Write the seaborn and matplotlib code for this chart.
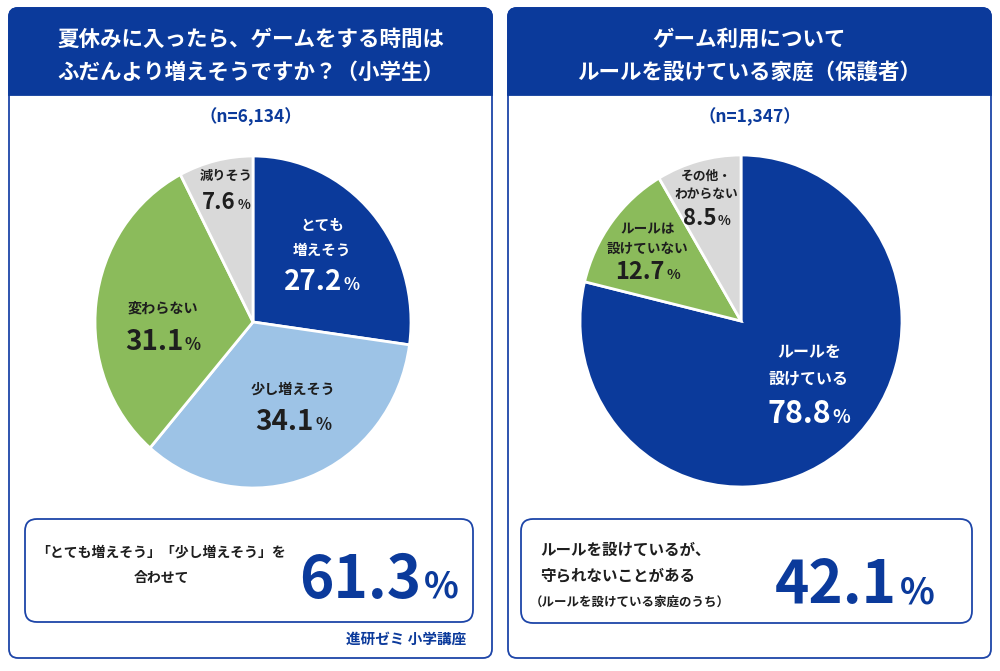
import numpy as np
import seaborn as sns
import matplotlib.pyplot as plt
from matplotlib.patches import FancyBboxPatch, Rectangle

# データ
left_title = "夏休みに入ったら、ゲームをする時間は\nふだんより増えそうですか？（小学生）"
left_n = "（n=6,134）"
left_labels = ["とても\n増えそう", "少し増えそう", "変わらない", "減りそう"]
left_values = [27.2, 34.1, 31.1, 7.6]
left_summary = "61.3"

right_title = "ゲーム利用について\nルールを設けている家庭（保護者）"
right_n = "（n=1,347）"
right_labels = ["ルールを\n設けている", "ルールは\n設けていない", "その他・\nわからない"]
right_values = [78.8, 12.7, 8.5]
right_summary = "42.1"

sns.set_theme(style="white")
plt.rcParams['font.family'] = ['Noto Sans CJK JP', 'DejaVu Sans']

AZUL = "#0b3a9b"
BORDA = "#1d45a8"
TEXTO = "#1e1e1e"
cores_esq = [AZUL, "#9dc3e6", "#8bbb5b", "#d9d9d9"]
cores_dir = [AZUL, "#8bbb5b", "#d9d9d9"]

fig = plt.figure(figsize=(10, 6.71), dpi=100)
bg = fig.add_axes([0, 0, 1, 1])
bg.set_xlim(0, 1000)
bg.set_ylim(671, 0)
bg.axis('off')


def painel(x0, x1, titulo, n_txt):
    y0, y1 = 8, 658
    bg.add_patch(FancyBboxPatch((x0, y0), x1 - x0, y1 - y0, boxstyle="round,pad=0,rounding_size=9",
                                fc="white", ec=BORDA, lw=1.3))
    bg.add_patch(FancyBboxPatch((x0, y0), x1 - x0, 60, boxstyle="round,pad=0,rounding_size=9",
                                fc=AZUL, ec=AZUL, lw=1.3))
    bg.add_patch(Rectangle((x0, 40), x1 - x0, 55, fc=AZUL, ec=AZUL, lw=1.3))
    cx = (x0 + x1) / 2
    l1, l2 = titulo.split("\n")
    bg.text(cx, 39, l1, color="white", fontsize=15.5, fontweight="bold", ha="center", va="center")
    bg.text(cx, 72, l2, color="white", fontsize=15.5, fontweight="bold", ha="center", va="center")
    bg.text(cx, 117, n_txt, color=AZUL, fontsize=12.5, fontweight="bold", ha="center", va="center")


painel(9, 492, left_title, left_n)
painel(508, 991, right_title, right_n)

# caixas de resumo
bg.add_patch(FancyBboxPatch((25, 519), 448, 103, boxstyle="round,pad=0,rounding_size=12",
                            fc="white", ec=BORDA, lw=1.3))
bg.add_patch(FancyBboxPatch((521, 519), 451, 104, boxstyle="round,pad=0,rounding_size=12",
                            fc="white", ec=BORDA, lw=1.3))

overlay = fig.add_axes([0, 0, 1, 1], zorder=10)
overlay.set_xlim(0, 1000)
overlay.set_ylim(671, 0)
overlay.axis('off')
overlay.patch.set_alpha(0)

renderer = fig.canvas.get_renderer()


def texto_pct(x, y, num, s_num, s_pct, cor):
    t1 = overlay.text(x, y, num, fontsize=s_num, fontweight="bold", color=cor, ha="left", va="baseline")
    t2 = overlay.text(x, y, "%", fontsize=s_pct, fontweight="bold", color=cor, ha="left", va="baseline")
    w1 = t1.get_window_extent(renderer).width
    w2 = t2.get_window_extent(renderer).width
    gap = s_num * 0.08
    total = w1 + gap + w2
    t1.set_x(x - total / 2)
    t2.set_x(x - total / 2 + w1 + gap)


def torta(cx, cy, rx, ry, valores, rotulos, cores, estilo):
    ax = fig.add_axes([(cx - rx) / 1000, 1 - (cy + ry) / 671, 2 * rx / 1000, 2 * ry / 671])
    wedges, _ = ax.pie(valores, colors=cores, startangle=90, counterclock=False,
                       wedgeprops=dict(edgecolor="white", linewidth=2))
    ax.set_aspect('auto')
    ax.set_xlim(-1.0, 1.0)
    ax.set_ylim(-1.0, 1.0)
    ax.axis('off')
    for w, rot, val, cor, (frac, dang, s_nome, s_val, esp, gap) in zip(wedges, rotulos, valores, cores, estilo):
        ang = np.deg2rad((w.theta1 + w.theta2) / 2 + dang)
        lx = cx + frac * rx * np.cos(ang)
        ly = cy - frac * ry * np.sin(ang)
        cor_txt = "white" if cor == AZUL else TEXTO
        linhas = rot.split("\n")
        altura = (len(linhas) - 1) * esp + gap + 8
        topo = ly - altura / 2 + 8
        for i, linha in enumerate(linhas):
            overlay.text(lx, topo + i * esp, linha, fontsize=s_nome, fontweight="bold",
                         color=cor_txt, ha="center", va="center")
        base = topo + (len(linhas) - 1) * esp + gap
        texto_pct(lx, base, f"{val:.1f}", s_val, s_val * 0.6, cor_txt)


# (frac, ajuste de ângulo, tam. nome, tam. valor, espaçamento, gap até valor)
estilo_esq = [(0.60, 2.4, 10.5, 20, 25, 40), (0.566, 5.9, 10.2, 20, 24, 40),
              (0.57, 8.5, 10.2, 20, 24, 42), (0.82, -1.7, 9.5, 16, 22, 33)]
estilo_dir = [(0.566, 10, 11.5, 22, 26, 45), (0.72, 0, 9.8, 17, 20, 30),
              (0.78, 0.7, 9.2, 16, 18, 30)]

torta(253, 322, 158, 166, left_values, left_labels, cores_esq, estilo_esq)
torta(741, 321, 161, 166, right_values, right_labels, cores_dir, estilo_dir)

# textos do resumo
overlay.text(161, 553, "「とても増えそう」「少し増えそう」を", fontsize=10, fontweight="bold",
             color=TEXTO, ha="center", va="center")
overlay.text(161, 578, "合わせて", fontsize=10, fontweight="bold", color=TEXTO, ha="center", va="center")
texto_pct(379, 598, left_summary, 42, 26, AZUL)

overlay.text(540, 550, "ルールを設けているが、", fontsize=11.2, fontweight="bold",
             color=TEXTO, ha="left", va="center")
overlay.text(540, 575, "守られないことがある", fontsize=11.2, fontweight="bold",
             color=TEXTO, ha="left", va="center")
overlay.text(530, 602, "（ルールを設けている家庭のうち）", fontsize=9, fontweight="bold",
             color=TEXTO, ha="left", va="center")
texto_pct(855, 603, right_summary, 42, 26, AZUL)

overlay.text(466, 639, "進研ゼミ 小学講座", fontsize=10.5, fontweight="bold", color=AZUL,
             ha="right", va="center")

fig.savefig("out.png", dpi=100)
